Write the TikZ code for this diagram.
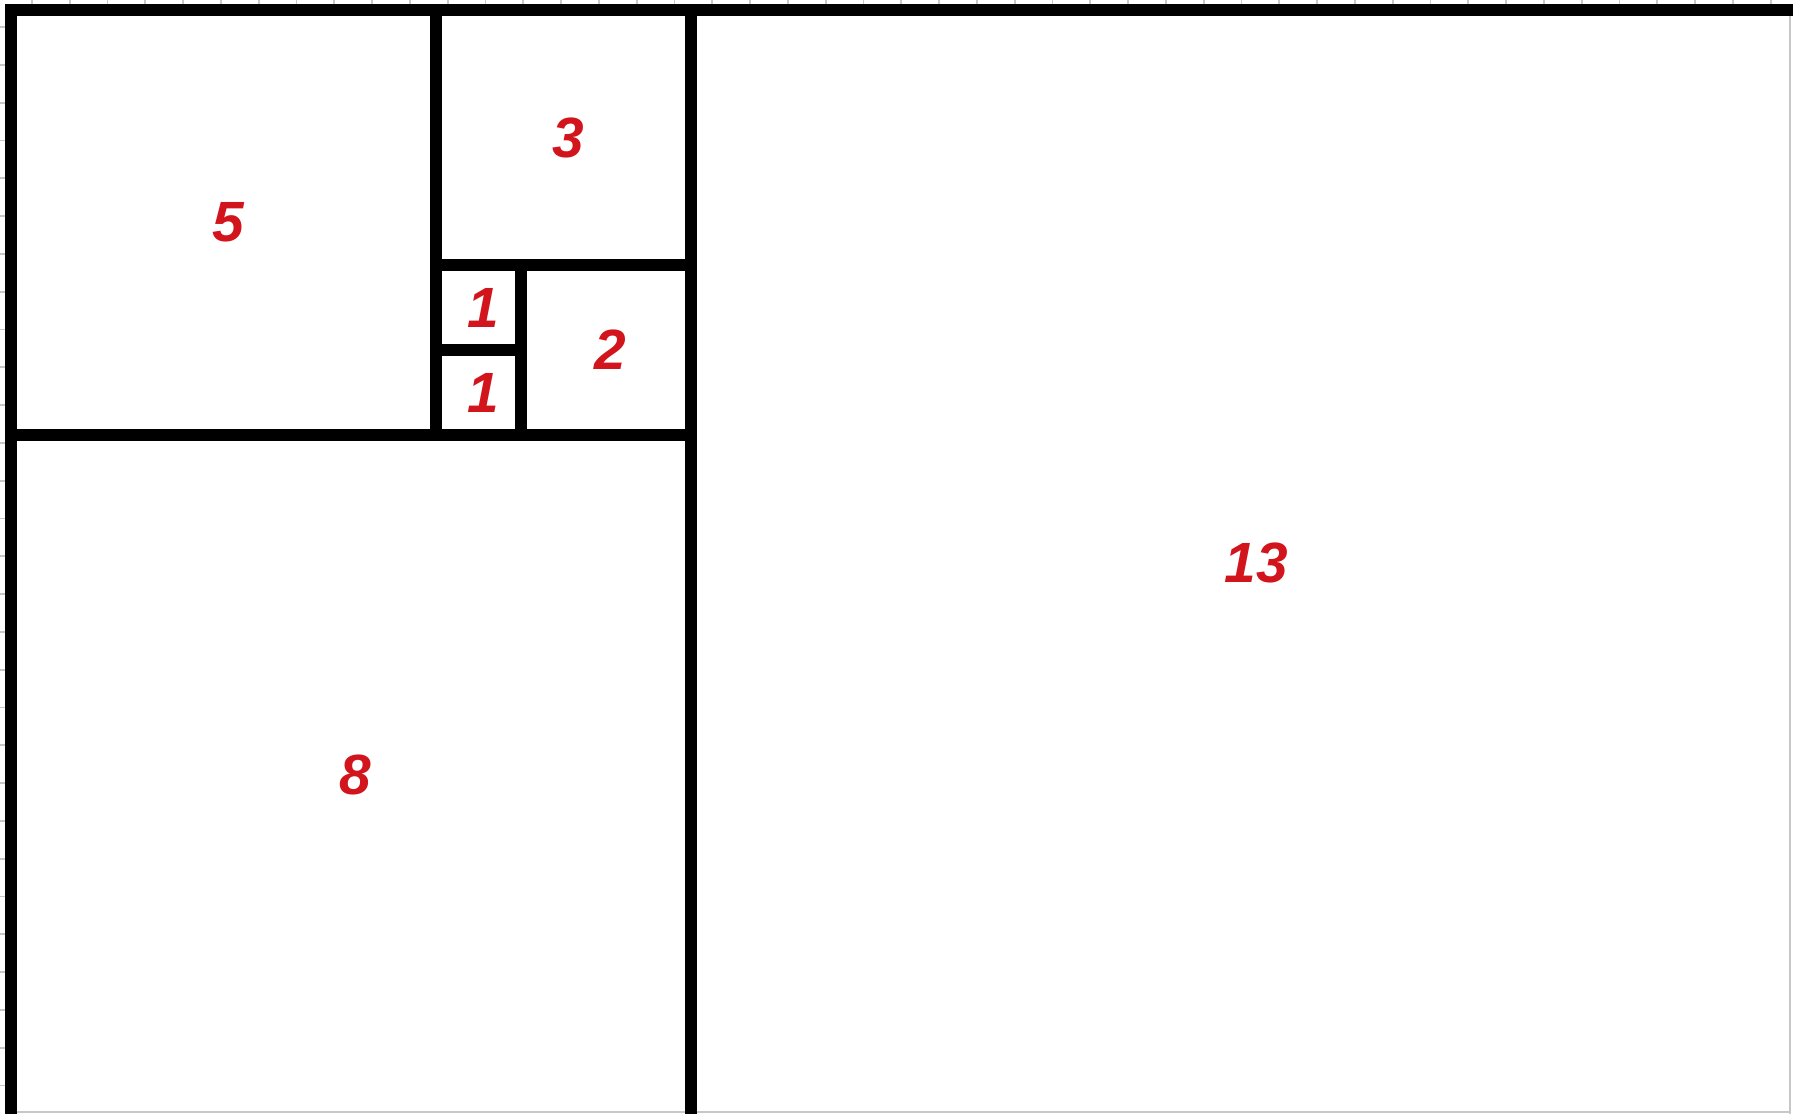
\documentclass[tikz,border=0pt]{standalone}
\usepackage{fontspec}
\setmainfont{Liberation Sans}
\usepackage{tikz}
\definecolor{numred}{RGB}{210,20,28}

\begin{document}
\begin{tikzpicture}[
  edge/.style={line width=3.8pt, line join=miter},
  cell/.style={black!22, line width=0.6pt},
  num/.style={text=numred, xshift=1.5pt, font=\fontsize{19}{20}\selectfont\bfseries\itshape}
]

\useasboundingbox (-0.129,0.024) rectangle (20.965,13.118);

\foreach \k in {0,...,46}
  \draw[cell] ({0.247+0.4447*\k},13) -- ({0.247+0.4447*\k},13.2);
\foreach \k in {0,...,28}
  \draw[cell] (-0.2,{12.8-0.4447*\k}) -- (0,{12.8-0.4447*\k});
\draw[cell] (20.93,0) -- (20.93,13);
\draw[cell] (0,0.035) -- (20.93,0.035);

\draw[edge] (0,0) -- (0,13) -- (21,13);
\draw[edge] (8,0) -- (8,13);
\draw[edge] (0,8) -- (8,8);
\draw[edge] (5,8) -- (5,13);
\draw[edge] (5,10) -- (8,10);
\draw[edge] (6,8) -- (6,10);
\draw[edge] (5,9) -- (6,9);

\node[num] (n13) at (14.6,6.5) {13};
\node[num] (n8) at (4,4) {8};
\node[num] (n5) at (2.5,10.5) {5};
\node[num] (n3) at (6.5,11.5) {3};
\node[num] (n2) at (7,9) {2};
\node[num] (n1a) at (5.5,9.5) {1};
\node[num] (n1b) at (5.5,8.5) {1};

\end{tikzpicture}
\end{document}
